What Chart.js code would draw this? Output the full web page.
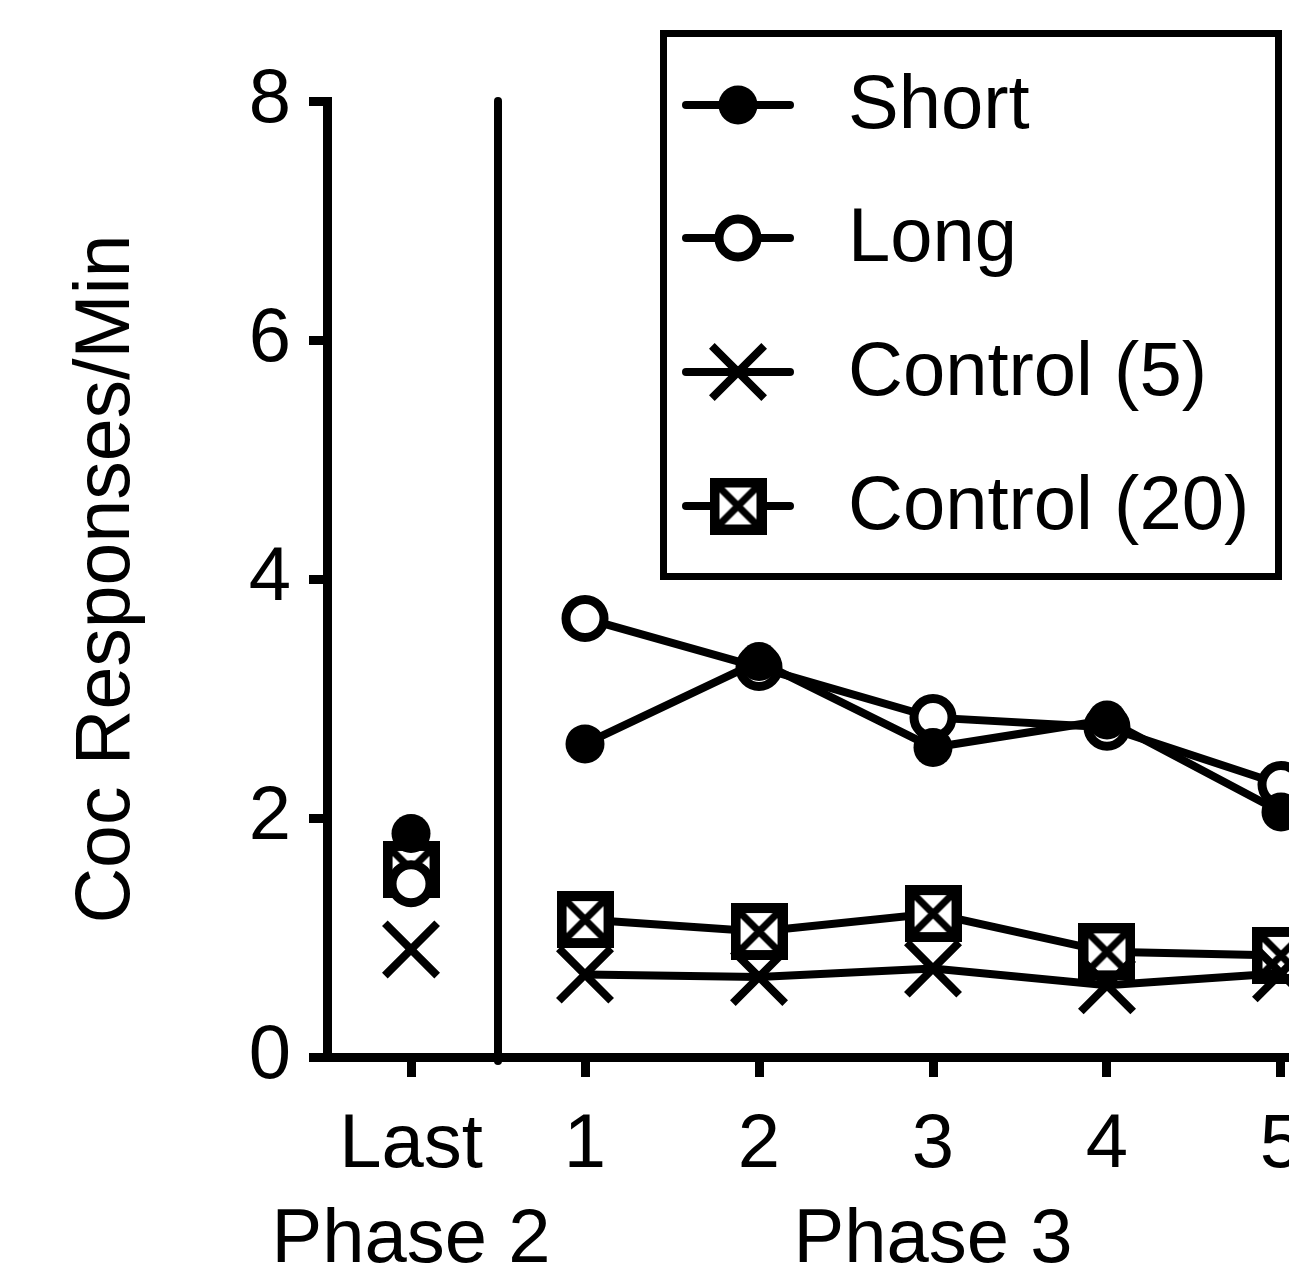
<!DOCTYPE html>
<html>
<head>
  <meta charset="UTF-8">
  <title>Coc Responses/Min</title>
  <script src="https://cdn.jsdelivr.net/npm/chart.js"></script>
  <style>
    body { margin: 0; background: #fff; }
    canvas { display: block; }
  </style>
</head>
<body>
  <canvas id="chart" width="1289" height="1274"></canvas>

  <script>
    // x positions: 0 = last session of phase 2, 1..5 = phase 3 sessions
    const xValues = [0, 1, 2, 3, 4, 5];
    const xLabels = ['Last', '1', '2', '3', '4', '5'];
    const phaseLabels = { 0: 'Phase 2', 3: 'Phase 3' };
    const yTicks = [0, 2, 4, 6, 8];

    const shortVals = [1.87, 2.62, 3.31, 2.59, 2.82, 2.05];
    const longVals = [1.45, 3.67, 3.26, 2.84, 2.76, 2.28];
    const control5Vals = [0.90, 0.69, 0.67, 0.74, 0.60, 0.70];
    const control20Vals = [1.57, 1.15, 1.05, 1.20, 0.88, 0.85];

    const FONT = "'Liberation Sans', Arial, sans-serif";

    // square with an X inside, used for Control (20)
    function boxX(size) {
      const c = document.createElement('canvas');
      c.width = size; c.height = size;
      const g = c.getContext('2d');
      const b = 10;
      g.fillStyle = '#fff';
      g.fillRect(0, 0, size, size);
      g.strokeStyle = '#000';
      g.lineWidth = b;
      g.strokeRect(b / 2, b / 2, size - b, size - b);
      g.lineWidth = 7;
      g.beginPath();
      g.moveTo(b, b); g.lineTo(size - b, size - b);
      g.moveTo(size - b, b); g.lineTo(b, size - b);
      g.stroke();
      return c;
    }
    const boxImg = boxX(57);

    // gap between phase 2 and phase 3 so the lines are not joined
    function toPoints(vals) {
      const pts = [{ x: xValues[0], y: vals[0] }, { x: 0.5, y: null }];
      for (let i = 1; i < vals.length; i++) pts.push({ x: xValues[i], y: vals[i] });
      return pts;
    }

    const series = [
      { label: 'Short', data: shortVals, style: 'circle', radius: 19.5, bw: 0, fill: '#000' },
      { label: 'Long', data: longVals, style: 'circle', radius: 19, bw: 9, fill: '#fff' },
      { label: 'Control (5)', data: control5Vals, style: 'crossRot', radius: 37, bw: 8, fill: '#000' },
      { label: 'Control (20)', data: control20Vals, style: boxImg, radius: 28, bw: 0, fill: '#fff' }
    ];

    const dividerPlugin = {
      id: 'divider',
      beforeDatasetsDraw(chart) {
        const x = chart.scales.x.getPixelForValue(0.5);
        const ctx = chart.ctx;
        ctx.save();
        ctx.strokeStyle = '#000';
        ctx.lineWidth = 8;
        ctx.lineCap = 'round';
        ctx.beginPath();
        ctx.moveTo(x, chart.chartArea.top);
        ctx.lineTo(x, chart.chartArea.bottom + 4);
        ctx.stroke();
        ctx.restore();
      }
    };

    const legendPlugin = {
      id: 'boxLegend',
      afterDatasetsDraw(chart) {
        const ctx = chart.ctx;
        ctx.save();
        ctx.fillStyle = '#fff';
        ctx.fillRect(660, 30, 622, 550);
        ctx.strokeStyle = '#000';
        ctx.lineWidth = 7;
        ctx.strokeRect(663.5, 33.5, 615, 543);
        const rows = [105, 238, 372, 506];
        series.forEach((s, i) => {
          const y = rows[i];
          ctx.strokeStyle = '#000';
          ctx.lineWidth = 8;
          ctx.lineCap = 'round';
          ctx.beginPath();
          ctx.moveTo(686, y); ctx.lineTo(790, y);
          ctx.stroke();
          const mx = 738;
          ctx.fillStyle = s.fill;
          ctx.lineWidth = s.bw;
          ctx.lineCap = 'butt';
          if (s.style === 'circle') {
            ctx.beginPath();
            ctx.arc(mx, y, s.radius, 0, Math.PI * 2);
            ctx.fill();
            if (s.bw) ctx.stroke();
          } else if (s.style === 'crossRot') {
            const d = s.radius * Math.SQRT1_2;
            ctx.beginPath();
            ctx.moveTo(mx - d, y - d); ctx.lineTo(mx + d, y + d);
            ctx.moveTo(mx + d, y - d); ctx.lineTo(mx - d, y + d);
            ctx.stroke();
          } else {
            ctx.drawImage(boxImg, mx - boxImg.width / 2, y - boxImg.height / 2);
          }
          ctx.fillStyle = '#000';
          ctx.font = '76px ' + FONT;
          ctx.textAlign = 'left';
          ctx.textBaseline = 'middle';
          ctx.fillText(s.label, 848, y + 2);
        });
        ctx.restore();
      }
    };

    new Chart(document.getElementById('chart'), {
      type: 'line',
      data: {
        datasets: series.map(s => ({
          label: s.label,
          data: toPoints(s.data),
          borderColor: '#000',
          borderWidth: 8,
          spanGaps: false,
          clip: false,
          pointStyle: s.style,
          pointRadius: s.radius,
          pointBorderWidth: s.bw,
          pointBorderColor: '#000',
          pointBackgroundColor: s.fill
        }))
      },
      options: {
        responsive: false,
        animation: false,
        events: [],
        layout: { autoPadding: false, padding: { top: 101, right: 0, bottom: 0, left: 0 } },
        plugins: { legend: { display: false }, tooltip: { enabled: false } },
        scales: {
          x: {
            type: 'linear',
            min: -0.4828,
            max: 5.046,
            afterBuildTicks: scale => { scale.ticks = xValues.map(v => ({ value: v })); },
            afterFit: scale => { scale.height = 217; scale.paddingLeft = 0; scale.paddingRight = 0; },
            grid: { drawOnChartArea: false, drawTicks: true, tickLength: 20, tickWidth: 9, tickColor: '#000' },
            border: { display: true, color: '#000', width: 9 },
            ticks: {
              autoSkip: false,
              maxRotation: 0,
              padding: 22,
              color: '#000',
              font: { family: FONT, size: 76, lineHeight: 1.25 },
              callback: v => {
                const label = xLabels[xValues.indexOf(v)];
                return phaseLabels[v] ? [label, phaseLabels[v]] : label;
              }
            }
          },
          y: {
            min: 0,
            max: 8,
            afterBuildTicks: scale => { scale.ticks = yTicks.map(v => ({ value: v })); },
            afterFit: scale => { scale.width = 327; scale.paddingTop = 0; scale.paddingBottom = 0; },
            grid: { drawOnChartArea: false, drawTicks: true, tickLength: 18, tickWidth: 9, tickColor: '#000' },
            border: { display: true, color: '#000', width: 9 },
            ticks: {
              padding: 18,
              color: '#000',
              font: { family: FONT, size: 76 }
            },
            title: {
              display: true,
              text: 'Coc Responses/Min',
              color: '#000',
              font: { family: FONT, size: 77, lineHeight: 1.2 },
              padding: { top: 62, bottom: 0 }
            }
          }
        }
      },
      plugins: [dividerPlugin, legendPlugin]
    });
  </script>
</body>
</html>
